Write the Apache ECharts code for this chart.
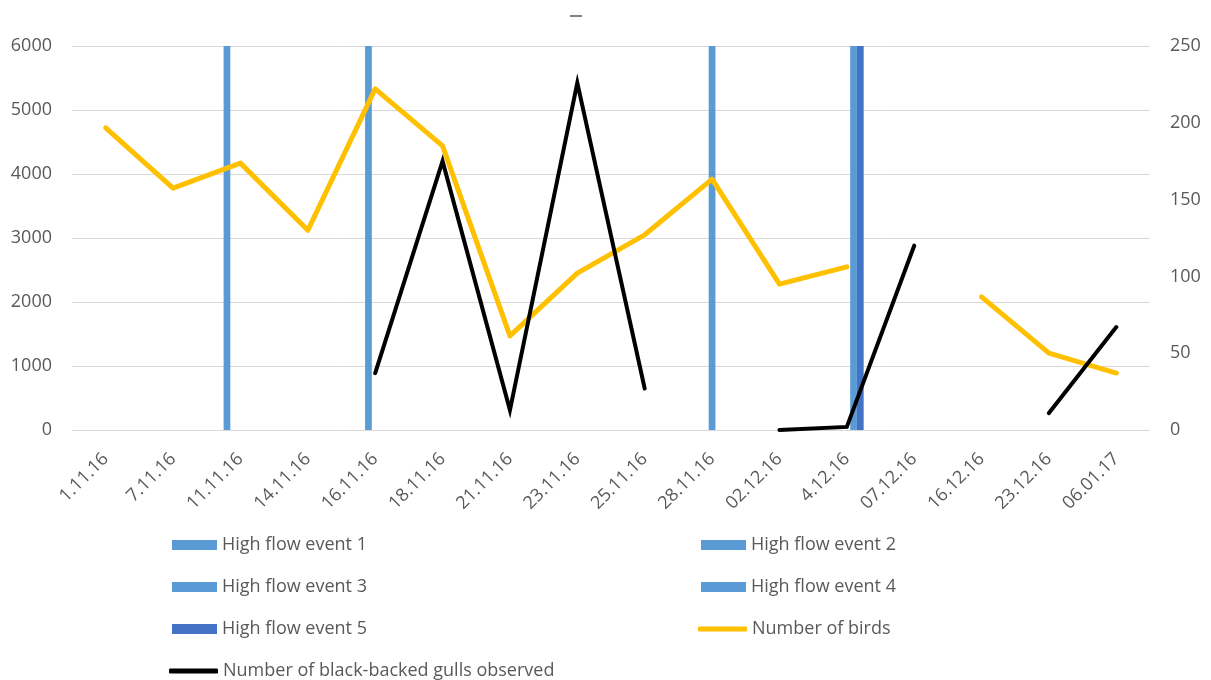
<!DOCTYPE html>
<html>
<head>
<meta charset="utf-8">
<script src="https://cdn.jsdelivr.net/npm/echarts@6/dist/echarts.min.js"></script>
<style>
  html, body { margin: 0; padding: 0; background: #fff; }
  #chart { width: 1211px; height: 680px; }
</style>
</head>
<body>
<div id="chart"></div>
<script>
// Sampling dates
const dates = ['1.11.16', '7.11.16', '11.11.16', '14.11.16', '16.11.16', '18.11.16', '21.11.16', '23.11.16',
  '25.11.16', '28.11.16', '02.12.16', '4.12.16', '07.12.16', '16.12.16', '23.12.16', '06.01.17'];

// High flow events, drawn as full-height columns on the left axis
const highFlow1 = [null, null, 6000, null, null, null, null, null, null, null, null, null, null, null, null, null];
const highFlow2 = [null, null, null, null, 6000, null, null, null, null, null, null, null, null, null, null, null];
const highFlow3 = [null, null, null, null, null, null, null, null, null, 6000, null, null, null, null, null, null];
const highFlow4 = [null, null, null, null, null, null, null, null, null, null, null, 6000, null, null, null, null];
const highFlow5 = [null, null, null, null, null, null, null, null, null, null, null, 6000, null, null, null, null];

// Number of birds (left axis)
const birds = [4720, 3780, 4170, 3120, 5330, 4440, 1470, 2450, 3050, 3920, 2280, 2550, null, 2080, 1200, 890];

// Number of black-backed gulls observed (right axis)
const gulls = [null, null, null, null, 37, 175, 13, 226, 27, null, 0, 2, 120, null, 11, 67];

// Axis ticks
const leftMax = 6000, leftStep = 1000;
const rightMax = 250, rightStep = 50;

const FONT = 'Open Sans';
const GREY = '#595959';
const FLOW = '#5b9bd5';
const FLOW5 = '#4472c4';
const BIRDS = '#ffc000';
const GULLS = '#000000';

const chart = echarts.init(document.getElementById('chart'), null, { renderer: 'canvas' });

function flowSeries(name, data, color) {
  return {
    name, type: 'bar', data, yAxisIndex: 0,
    barGap: '0%', barCategoryGap: '50%',
    itemStyle: { color },
    emphasis: { disabled: true },
    z: 1
  };
}

const labelStyle = { color: GREY, fontFamily: FONT, fontSize: 18 };

// One legend entry per slot: two columns, rows 42px apart
function legendEntry(name, left, row, kind, color) {
  const isLine = kind === 'line';
  return {
    left, top: 536 + row * 42, padding: 0,
    itemWidth: isLine ? 49 : 45, itemHeight: isLine ? 5 : 10, itemGap: 0,
    icon: isLine ? 'roundRect' : 'rect',
    itemStyle: { color },
    textStyle: Object.assign({ lineHeight: 18 }, labelStyle),
    data: [{ name, icon: isLine ? 'roundRect' : 'rect', itemStyle: { color } }]
  };
}

chart.setOption({
  animation: false,
  backgroundColor: '#fff',
  textStyle: { fontFamily: FONT },
  graphic: [{
    type: 'rect', left: 570, top: 15, shape: { width: 12, height: 2 }, style: { fill: '#7f7f7f' }
  }],
  grid: { left: 72, right: 61, top: 46, height: 384 },
  legend: [
    legendEntry('High flow event 1', 172, 0, 'bar', FLOW),
    legendEntry('High flow event 2', 701, 0, 'bar', FLOW),
    legendEntry('High flow event 3', 172, 1, 'bar', FLOW),
    legendEntry('High flow event 4', 701, 1, 'bar', FLOW),
    legendEntry('High flow event 5', 172, 2, 'bar', FLOW5),
    legendEntry('Number of birds', 698, 2, 'line', BIRDS),
    legendEntry('Number of black-backed gulls observed', 169, 3, 'line', GULLS)
  ],
  xAxis: {
    type: 'category', data: dates, boundaryGap: true,
    axisLine: { show: false }, axisTick: { show: false },
    axisLabel: Object.assign({ rotate: 45, margin: 26, interval: 0 }, labelStyle)
  },
  yAxis: [{
    type: 'value', min: 0, max: leftMax, interval: leftStep,
    axisLine: { show: false }, axisTick: { show: false },
    splitLine: { lineStyle: { color: '#d9d9d9', width: 1 } },
    axisLabel: Object.assign({ margin: 20, formatter: v => String(v) }, labelStyle)
  }, {
    type: 'value', min: 0, max: rightMax, interval: rightStep, position: 'right',
    axisLine: { show: false }, axisTick: { show: false },
    splitLine: { show: false },
    axisLabel: Object.assign({ margin: 20, formatter: v => String(v) }, labelStyle)
  }],
  series: [
    flowSeries('High flow event 1', highFlow1, FLOW),
    flowSeries('High flow event 2', highFlow2, FLOW),
    flowSeries('High flow event 3', highFlow3, FLOW),
    flowSeries('High flow event 4', highFlow4, FLOW),
    flowSeries('High flow event 5', highFlow5, FLOW5),
    {
      name: 'Number of birds', type: 'line', data: birds, yAxisIndex: 0,
      symbol: 'none', connectNulls: false,
      lineStyle: { color: BIRDS, width: 5, cap: 'round', join: 'round' },
      itemStyle: { color: BIRDS },
      emphasis: { disabled: true }, z: 3
    },
    {
      name: 'Number of black-backed gulls observed', type: 'line', data: gulls, yAxisIndex: 1,
      symbol: 'none', connectNulls: false,
      lineStyle: { color: GULLS, width: 4, cap: 'round', join: 'miter' },
      itemStyle: { color: GULLS },
      emphasis: { disabled: true }, z: 4
    }
  ]
});
</script>
</body>
</html>
